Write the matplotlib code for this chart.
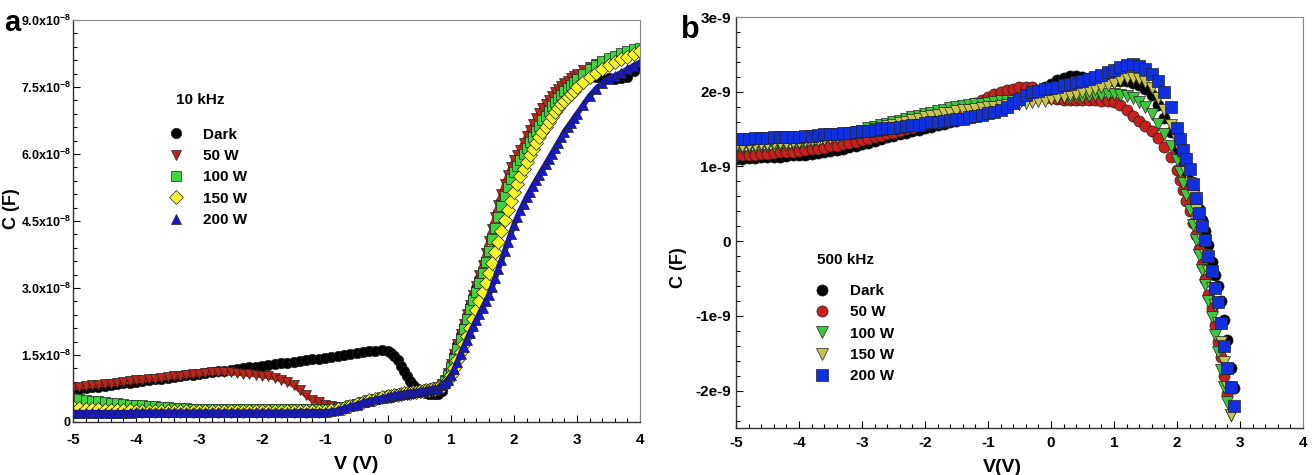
import numpy as np
import matplotlib
matplotlib.use("Agg")
import matplotlib.pyplot as plt
from matplotlib.ticker import AutoMinorLocator

plt.rcParams["font.family"] = ["Liberation Sans", "DejaVu Sans"]
plt.rcParams["font.weight"] = "bold"
plt.rcParams["mathtext.default"] = "regular"

# ---------------- panel a : 10 kHz (C in units of 1e-8 F) ----------------
v_a = np.concatenate([np.linspace(-5.0, -0.1, 50), np.linspace(0.0, 3.0, 61), np.linspace(3.1, 4.0, 10)])

dark_a = [0.72, 0.74, 0.76, 0.78, 0.79, 0.81, 0.83, 0.85, 0.87, 0.88,
          0.90, 0.92, 0.94, 0.96, 0.97, 0.99, 1.01, 1.03, 1.05, 1.06,
          1.08, 1.10, 1.12, 1.14, 1.15, 1.17, 1.19, 1.21, 1.23, 1.24,
          1.26, 1.28, 1.30, 1.32, 1.33, 1.35, 1.37, 1.39, 1.41, 1.42,
          1.44, 1.46, 1.48, 1.50, 1.52, 1.54, 1.56, 1.58, 1.60, 1.61,
          1.58, 1.54, 1.48, 1.38, 1.26, 1.14, 1.02, 0.91, 0.82, 0.75,
          0.70, 0.67, 0.65, 0.63, 0.62, 0.62,
          0.62, 0.70, 0.85, 1.05, 1.28, 1.50, 1.72, 1.94, 2.16, 2.38,
          2.60, 2.80, 3.00, 3.20, 3.42, 3.66, 3.92, 4.18, 4.44, 4.70,
          4.94, 5.16, 5.36, 5.53, 5.68, 5.82, 5.95, 6.08, 6.21, 6.34,
          6.46, 6.58, 6.70, 6.81, 6.92, 7.02, 7.12, 7.21, 7.29, 7.37,
          7.44, 7.50, 7.56, 7.61, 7.66,
          7.70, 7.74, 7.72, 7.68, 7.70, 7.67, 7.70, 7.72, 7.85, 7.95]

w50_a = [0.77, 0.79, 0.80, 0.82, 0.83, 0.85, 0.86, 0.88, 0.90, 0.91,
         0.93, 0.94, 0.96, 0.97, 0.99, 1.00, 1.02, 1.04, 1.05, 1.07,
         1.08, 1.10, 1.11, 1.13, 1.12, 1.11, 1.10, 1.08, 1.07, 1.06,
         1.04, 1.02, 0.99, 0.95, 0.90, 0.83, 0.72, 0.60, 0.50, 0.44,
         0.39, 0.36, 0.34, 0.34, 0.36, 0.40, 0.44, 0.48, 0.51, 0.54,
         0.57, 0.585, 0.60, 0.61, 0.62, 0.635, 0.65, 0.66, 0.67, 0.68,
         0.69, 0.70, 0.71, 0.72, 0.73, 0.75,
         0.78, 0.84, 0.95, 1.10, 1.30, 1.52, 1.75, 1.98, 2.20, 2.42,
         2.63, 2.84, 3.05, 3.28, 3.52, 3.78, 4.05, 4.32, 4.60, 4.86,
         5.10, 5.32, 5.52, 5.70, 5.86, 5.98, 6.10, 6.25, 6.40, 6.54,
         6.67, 6.80, 6.92, 7.03, 7.13, 7.22, 7.30, 7.38, 7.45, 7.52,
         7.58, 7.64, 7.70, 7.75, 7.80,
         7.88, 7.95, 8.01, 8.06, 8.11, 8.16, 8.20, 8.25, 8.30, 8.35]

w100_a = [0.54, 0.52, 0.50, 0.48, 0.46, 0.45, 0.43, 0.42, 0.40, 0.39,
          0.38, 0.37, 0.36, 0.35, 0.34, 0.33, 0.32, 0.31, 0.31, 0.30,
          0.30, 0.29, 0.29, 0.29, 0.28, 0.28, 0.28, 0.28, 0.28, 0.28,
          0.28, 0.28, 0.28, 0.28, 0.28, 0.28, 0.28, 0.28, 0.28, 0.28,
          0.28, 0.29, 0.30, 0.33, 0.37, 0.41, 0.45, 0.49, 0.52, 0.55,
          0.58, 0.595, 0.61, 0.62, 0.63, 0.645, 0.66, 0.67, 0.68, 0.69,
          0.70, 0.71, 0.72, 0.73, 0.74, 0.755,
          0.77, 0.82, 0.92, 1.05, 1.22, 1.42, 1.64, 1.86, 2.08, 2.30,
          2.52, 2.73, 2.92, 3.12, 3.34, 3.58, 3.83, 4.09, 4.35, 4.60,
          4.84, 5.06, 5.26, 5.44, 5.60, 5.74, 5.87, 6.00, 6.13, 6.26,
          6.39, 6.51, 6.63, 6.75, 6.86, 6.97, 7.07, 7.16, 7.25, 7.33,
          7.41, 7.48, 7.55, 7.62, 7.68,
          7.80, 7.91, 8.00, 8.08, 8.15, 8.20, 8.25, 8.30, 8.34, 8.38]

w150_a = [0.34, 0.32, 0.30, 0.29, 0.28, 0.27, 0.27, 0.26, 0.26, 0.26,
          0.25, 0.25, 0.25, 0.25, 0.25, 0.25, 0.25, 0.25, 0.25, 0.25,
          0.25, 0.25, 0.25, 0.25, 0.25, 0.25, 0.25, 0.25, 0.25, 0.25,
          0.25, 0.25, 0.25, 0.25, 0.25, 0.25, 0.25, 0.25, 0.25, 0.25,
          0.25, 0.26, 0.28, 0.32, 0.36, 0.40, 0.45, 0.49, 0.52, 0.55,
          0.58, 0.59, 0.60, 0.615, 0.63, 0.64, 0.65, 0.66, 0.67, 0.68,
          0.69, 0.70, 0.71, 0.72, 0.73, 0.745,
          0.76, 0.79, 0.85, 0.94, 1.05, 1.20, 1.38, 1.56, 1.74, 1.92,
          2.10, 2.30, 2.50, 2.70, 2.90, 3.12, 3.34, 3.56, 3.80, 4.04,
          4.28, 4.52, 4.74, 4.95, 5.15, 5.33, 5.50, 5.66, 5.82, 5.97,
          6.11, 6.24, 6.37, 6.49, 6.61, 6.72, 6.83, 6.93, 7.02, 7.11,
          7.19, 7.27, 7.35, 7.42, 7.49,
          7.61, 7.72, 7.82, 7.91, 7.99, 8.06, 8.12, 8.18, 8.24, 8.30]

w200_a = [0.21, 0.21, 0.21, 0.21, 0.21, 0.21, 0.21, 0.21, 0.21, 0.21,
          0.22, 0.22, 0.22, 0.22, 0.22, 0.22, 0.22, 0.22, 0.22, 0.22,
          0.22, 0.22, 0.22, 0.22, 0.22, 0.22, 0.22, 0.22, 0.22, 0.22,
          0.22, 0.22, 0.22, 0.22, 0.22, 0.22, 0.23, 0.23, 0.23, 0.23,
          0.23, 0.24, 0.27, 0.31, 0.35, 0.39, 0.44, 0.48, 0.51, 0.54,
          0.57, 0.585, 0.60, 0.61, 0.62, 0.635, 0.65, 0.66, 0.67, 0.68,
          0.69, 0.70, 0.71, 0.72, 0.73, 0.745,
          0.76, 0.82, 0.88, 0.95, 1.05, 1.18, 1.35, 1.52, 1.68, 1.84,
          2.00, 2.14, 2.28, 2.42, 2.56, 2.70, 2.84, 3.02, 3.22, 3.42,
          3.62, 3.82, 4.02, 4.22, 4.42, 4.58, 4.74, 4.89, 5.03, 5.16,
          5.29, 5.41, 5.53, 5.65, 5.77, 5.89, 6.01, 6.13, 6.25, 6.37,
          6.50, 6.60, 6.70, 6.80, 6.90,
          7.10, 7.30, 7.46, 7.58, 7.68, 7.75, 7.82, 7.90, 7.98, 8.05]

# ---------------- panel b : 500 kHz (C in units of 1e-9 F) ----------------
v_b = np.concatenate([np.linspace(-5.0, 1.9, 70), np.linspace(2.0, 2.9, 19)])
nan = np.nan

dark_b = [1.10, 1.10, 1.11, 1.11, 1.12, 1.12, 1.13, 1.13, 1.14, 1.15,
          1.15, 1.16, 1.17, 1.18, 1.19, 1.21, 1.22, 1.24, 1.26, 1.28,
          1.30, 1.32, 1.34, 1.37, 1.39, 1.41, 1.43, 1.45, 1.47, 1.49,
          1.51, 1.53, 1.55, 1.57, 1.59, 1.61, 1.63, 1.65, 1.67, 1.70,
          1.73, 1.76, 1.79, 1.82, 1.85, 1.88, 1.92, 1.96, 2.01, 2.06,
          2.11, 2.16, 2.19, 2.21, 2.21, 2.20, 2.19, 2.18, 2.17, 2.16,
          2.15, 2.15, 2.14, 2.12, 2.09, 2.04, 1.95, 1.82, 1.65, 1.46,
          1.26, 1.15, 1.04, 0.92, 0.80, 0.68, 0.56, 0.43, 0.29, 0.14,
          -0.05, -0.28, -0.45, -0.60, -0.80, -1.05, -1.32, -1.70, -1.97]

w50_b = [1.15, 1.15, 1.16, 1.16, 1.17, 1.17, 1.18, 1.19, 1.19, 1.20,
         1.21, 1.22, 1.23, 1.24, 1.25, 1.27, 1.28, 1.30, 1.31, 1.33,
         1.35, 1.37, 1.39, 1.41, 1.43, 1.45, 1.47, 1.50, 1.52, 1.55,
         1.57, 1.60, 1.63, 1.66, 1.70, 1.74, 1.77, 1.81, 1.85, 1.89,
         1.93, 1.97, 2.00, 2.02, 2.04, 2.06, 2.07, 2.06, 2.02, 1.96,
         1.92, 1.90, 1.89, 1.89, 1.89, 1.89, 1.89, 1.89, 1.88, 1.87,
         1.86, 1.82, 1.76, 1.68, 1.61, 1.54, 1.47, 1.38, 1.26, 1.12,
         0.95, 0.82, 0.68, 0.54, 0.40, 0.25, 0.08, -0.10, -0.30, -0.50,
         -0.72, -0.90, -1.12, -1.35, -1.55, -1.80, -2.05, nan, nan]

w100_b = [1.25, 1.25, 1.26, 1.26, 1.27, 1.27, 1.28, 1.29, 1.29, 1.30,
          1.31, 1.32, 1.33, 1.35, 1.36, 1.38, 1.40, 1.42, 1.44, 1.46,
          1.48, 1.51, 1.53, 1.55, 1.57, 1.59, 1.61, 1.63, 1.66, 1.68,
          1.70, 1.72, 1.74, 1.76, 1.78, 1.80, 1.81, 1.82, 1.83, 1.84,
          1.85, 1.86, 1.87, 1.87, 1.88, 1.88, 1.89, 1.89, 1.90, 1.90,
          1.91, 1.91, 1.92, 1.92, 1.93, 1.93, 1.94, 1.95, 1.96, 1.97,
          1.97, 1.96, 1.94, 1.91, 1.86, 1.80, 1.70, 1.57, 1.44, 1.28,
          1.08, 0.92, 0.78, 0.62, 0.42, 0.22, 0.02, -0.18, -0.38, -0.58,
          -0.80, -1.02, -1.25, -1.48, -1.72, -1.95, -2.15, -2.32, nan]

w150_b = [1.28, 1.28, 1.29, 1.29, 1.30, 1.30, 1.31, 1.31, 1.32, 1.33,
          1.33, 1.34, 1.35, 1.36, 1.37, 1.38, 1.40, 1.41, 1.43, 1.44,
          1.46, 1.48, 1.50, 1.52, 1.54, 1.56, 1.58, 1.60, 1.62, 1.64,
          1.66, 1.68, 1.69, 1.71, 1.72, 1.74, 1.75, 1.76, 1.77, 1.78,
          1.79, 1.80, 1.81, 1.82, 1.83, 1.84, 1.85, 1.86, 1.87, 1.88,
          1.90, 1.91, 1.93, 1.95, 1.97, 1.99, 2.01, 2.03, 2.06, 2.09,
          2.12, 2.16, 2.19, 2.19, 2.17, 2.13, 2.05, 1.92, 1.75, 1.55,
          1.35, 1.22, 1.08, 0.93, 0.78, 0.60, 0.42, 0.22, 0.02, -0.18,
          -0.40, -0.62, -0.85, -1.10, -1.35, -1.62, -1.95, -2.32, nan]

w200_b = [1.37, 1.37, 1.37, 1.38, 1.38, 1.38, 1.39, 1.39, 1.39, 1.40,
          1.40, 1.41, 1.41, 1.42, 1.43, 1.43, 1.44, 1.45, 1.45, 1.46,
          1.47, 1.48, 1.49, 1.50, 1.51, 1.52, 1.53, 1.54, 1.55, 1.56,
          1.58, 1.59, 1.60, 1.61, 1.62, 1.63, 1.64, 1.66, 1.67, 1.69,
          1.71, 1.73, 1.76, 1.80, 1.85, 1.90, 1.95, 1.99, 2.01, 2.03,
          2.05, 2.07, 2.09, 2.11, 2.13, 2.15, 2.17, 2.20, 2.23, 2.26,
          2.29, 2.33, 2.36, 2.37, 2.35, 2.31, 2.24, 2.14, 2.00, 1.80,
          1.52, 1.37, 1.22, 1.10, 0.96, 0.77, 0.58, 0.38, 0.20, 0.02,
          -0.20, -0.40, -0.62, -0.82, -1.10, -1.40, -1.70, -1.95, -2.20]

labels = ["Dark", "50 W", "100 W", "150 W", "200 W"]

yticks_a = [0, 1.5e-8, 3.0e-8, 4.5e-8, 6.0e-8, 7.5e-8, 9.0e-8]
yticklabels_a = ["0", "1.5x10$^{-8}$", "3.0x10$^{-8}$", "4.5x10$^{-8}$",
                 "6.0x10$^{-8}$", "7.5x10$^{-8}$", "9.0x10$^{-8}$"]
yticks_b = [-2e-9, -1e-9, 0, 1e-9, 2e-9, 3e-9]
yticklabels_b = ["-2e-9", "-1e-9", "0", "1e-9", "2e-9", "3e-9"]
xticks = [-5, -4, -3, -2, -1, 0, 1, 2, 3, 4]

fig = plt.figure(figsize=(13.14, 4.75), dpi=100)
ax1 = fig.add_axes([0.0556, 0.1116, 0.4315, 0.8463])
ax2 = fig.add_axes([0.5601, 0.0989, 0.4315, 0.8653])

# series styles: marker, face colour
style_a = [("o", "black"), ("v", "#b8261c"), ("s", "#3fd43f"), ("D", "#f5f528"), ("^", "#1818c8")]
style_b = [("o", "black"), ("o", "#c8201c"), ("v", "#3cc83c"), ("v", "#c8c450"), ("s", "#1030e0")]

for vals, lab, (mk, col) in zip([dark_a, w50_a, w100_a, w150_a, w200_a], labels, style_a):
    y = np.array(vals) * 1e-8
    # dense measured points overlap into a band
    ax1.plot(v_a, y, "-", color=col, lw=4, solid_capstyle="round")
    ax1.plot(v_a, y, linestyle="none", marker=mk, ms=7.5,
             mfc=col, mec="#222222", mew=0.5, label=lab)

for vals, lab, (mk, col) in zip([dark_b, w50_b, w100_b, w150_b, w200_b], labels, style_b):
    ax2.plot(v_b, np.array(vals) * 1e-9, linestyle="none", marker=mk, ms=8,
             mfc=col, mec="#222222", mew=0.5, label=lab)

for ax in (ax1, ax2):
    ax.set_xlim(-5, 4)
    ax.set_xticks(xticks)
    ax.set_xticklabels([str(t) for t in xticks], fontweight="bold")
    ax.xaxis.set_minor_locator(AutoMinorLocator(5))
    ax.yaxis.set_minor_locator(AutoMinorLocator(5))
    ax.tick_params(which="both", direction="in", top=False, right=False,
                   width=0.8, colors="black")
    ax.tick_params(which="major", length=5, labelsize=11)
    ax.tick_params(which="minor", length=3)
    for sp in ("top", "right"):
        ax.spines[sp].set_color("#888888")
        ax.spines[sp].set_linewidth(0.8)
    for sp in ("left", "bottom"):
        ax.spines[sp].set_color("#333333")
        ax.spines[sp].set_linewidth(1.0)

ax1.tick_params(axis="x", which="major", pad=8)
ax2.tick_params(axis="x", which="major", pad=6)

ax1.set_ylim(0, 9e-8)
ax1.set_yticks(yticks_a)
ax1.set_yticklabels(yticklabels_a, fontweight="bold", fontsize=9)
ax1.tick_params(axis="y", which="major", pad=1.5)
ax2.set_ylim(-2.5e-9, 3e-9)
ax2.set_yticks(yticks_b)
ax2.set_yticklabels(yticklabels_b, fontweight="bold", fontsize=11)

ax1.set_xlabel("V (V)", fontsize=14, fontweight="bold")
ax1.xaxis.set_label_coords(0.5, -0.085)
ax1.set_ylabel("C (F)", fontsize=13, fontweight="bold")
ax1.yaxis.set_label_coords(-0.094, 0.53)
ax2.set_xlabel("V(V)", fontsize=14, fontweight="bold")
ax2.xaxis.set_label_coords(0.47, -0.075)
ax2.set_ylabel("C (F)", fontsize=13, fontweight="bold")
ax2.yaxis.set_label_coords(-0.086, 0.39)

ax1.text(0.224, 0.80, "10 kHz", transform=ax1.transAxes, ha="center", va="center",
         fontsize=11, fontweight="bold")
ax1.legend(loc="upper left", bbox_to_anchor=(0.168, 0.732), frameon=False,
           handlelength=1.0, handletextpad=1.3, labelspacing=0.48, borderpad=0,
           borderaxespad=0, prop={"size": 11, "weight": "bold"})

ax2.text(0.194, 0.41, "500 kHz", transform=ax2.transAxes, ha="center", va="center",
         fontsize=11, fontweight="bold")
ax2.legend(loc="upper left", bbox_to_anchor=(0.139, 0.350), frameon=False,
           handlelength=1.0, handletextpad=1.3, labelspacing=0.48, borderpad=0,
           borderaxespad=0, prop={"size": 11, "weight": "bold"})

fig.text(0.003, 0.952, "a", fontsize=21, fontweight="bold", va="center")
fig.text(0.518, 0.937, "b", fontsize=22, fontweight="bold", va="center")

fig.savefig("out.png", dpi=100)
